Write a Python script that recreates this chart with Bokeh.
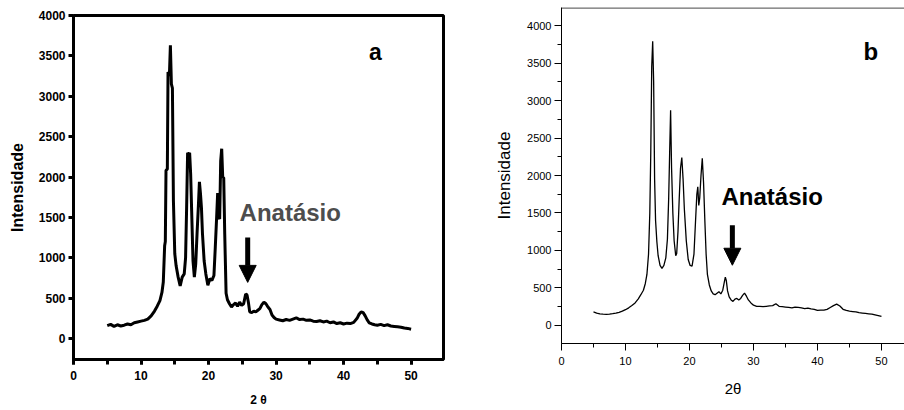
from bokeh.plotting import figure
from bokeh.models import Range1d, SingleIntervalTicker, Label, Arrow, NormalHead, Span
from bokeh.layouts import row
from bokeh.embed import file_html
from bokeh.resources import INLINE

FONT = "Liberation Sans"

# ---- data ----
two_theta_a = [5.0, 5.5, 6.0, 6.5, 7.0, 7.5, 8.0, 8.5, 9.0, 9.5,
               10.0, 10.5, 11.0, 11.5, 12.0, 12.4, 12.8, 13.1, 13.3, 13.5,
               13.6, 13.7, 13.9, 14.0, 14.2, 14.35, 14.5, 14.65, 14.8, 15.0,
               15.2, 15.5, 15.8, 16.1, 16.4, 16.6, 16.75, 16.9, 17.05, 17.2,
               17.35, 17.5, 17.7, 17.9, 18.1, 18.3, 18.5, 18.65, 18.8, 18.95,
               19.1, 19.35, 19.6, 19.9, 20.2, 20.5, 20.8, 21.0, 21.2, 21.35,
               21.5, 21.65, 21.8, 21.95, 22.1, 22.25, 22.4, 22.6, 22.8, 23.1,
               23.4, 23.7, 24.0, 24.3, 24.6, 24.9, 25.2, 25.5, 25.7, 25.9,
               26.1, 26.4, 26.7, 27.0, 27.3, 27.6, 27.9, 28.2, 28.5, 28.8,
               29.1, 29.4, 29.7, 30.0, 30.5, 31.0, 31.5, 32.0, 32.5, 33.0,
               33.5, 34.0, 34.5, 35.0, 35.5, 36.0, 36.5, 37.0, 37.5, 38.0,
               38.5, 39.0, 39.5, 40.0, 40.5, 41.0, 41.5, 42.0, 42.3, 42.6,
               42.9, 43.2, 43.5, 43.8, 44.2, 44.6, 45.0, 45.5, 46.0, 46.5,
               47.0, 47.5, 48.0, 48.5, 49.0, 49.5, 50.0]
intensity_a = [160, 175, 150, 170, 155, 165, 180, 170, 195, 205,
               215, 225, 240, 280, 340, 400, 470, 570, 700, 1150,
               1200, 2080, 2100, 3300, 3250, 3630, 3150, 3100, 1700, 1050,
               900, 760, 650, 760, 800, 1000, 1600, 2300, 2280, 2300,
               2040, 1580, 960, 760, 920, 1300, 1650, 1940, 1800, 1620,
               1300, 960, 800, 660, 740, 720, 780, 1130, 1500, 1800,
               1500, 1480, 2200, 2350, 2000, 1990, 1290, 560, 480, 430,
               390, 420, 440, 400, 450, 410, 430, 550, 540, 450,
               330, 320, 340, 330, 350, 370, 420, 450, 430, 390,
               360, 290, 260, 240, 230, 220, 235, 225, 240, 255,
               235, 240, 225, 230, 215, 210, 220, 205, 215, 195,
               205, 185, 195, 180, 190, 185, 200, 250, 300, 330,
               320, 280, 230, 195, 180, 170, 165, 175, 160, 170,
               155, 150, 145, 140, 130, 125, 115]

two_theta_b = [5.0, 5.5, 6.0, 6.5, 7.0, 7.5, 8.0, 8.5, 9.0, 9.5,
               10.0, 10.5, 11.0, 11.5, 12.0, 12.4, 12.8, 13.1, 13.35, 13.6,
               13.8, 13.95, 14.1, 14.25, 14.4, 14.55, 14.7, 14.9, 15.1, 15.4,
               15.7, 16.0, 16.3, 16.55, 16.75, 16.9, 17.05, 17.2, 17.4, 17.6,
               17.85, 18.0, 18.2, 18.4, 18.6, 18.8, 19.0, 19.2, 19.5, 19.8,
               20.1, 20.4, 20.7, 20.95, 21.15, 21.3, 21.45, 21.6, 21.8, 22.0,
               22.2, 22.4, 22.6, 22.8, 23.1, 23.4, 23.7, 24.0, 24.3, 24.6,
               24.9, 25.2, 25.45, 25.6, 25.75, 25.95, 26.2, 26.5, 26.8, 27.1,
               27.4, 27.7, 28.0, 28.3, 28.6, 28.9, 29.2, 29.6, 30.0, 30.5,
               31.0, 31.5, 32.0, 32.5, 33.0, 33.5, 34.0, 34.5, 35.0, 35.5,
               36.0, 36.5, 37.0, 37.5, 38.0, 38.5, 39.0, 39.5, 40.0, 40.5,
               41.0, 41.5, 42.0, 42.5, 43.0, 43.5, 44.0, 44.5, 45.0, 45.5,
               46.0, 46.5, 47.0, 47.5, 48.0, 48.5, 49.0, 49.5, 50.0]
intensity_b = [180, 165, 155, 150, 148, 152, 158, 165, 175, 190,
               210, 235, 265, 300, 355, 410, 470, 560, 680, 950,
               1500, 2300, 3450, 3790, 3250, 1950, 1400, 1120, 930, 800,
               760, 800, 900, 1150, 1700, 2300, 2870, 2100, 1500, 1130,
               930, 960, 1250, 1700, 2100, 2240, 1950, 1550, 1130, 880,
               800, 790, 950, 1400, 1750, 1850, 1600, 1700, 2000, 2230,
               1900, 1400, 950, 680, 540, 460, 420, 410, 430, 450,
               420, 470, 580, 645, 600, 460, 380, 340, 320, 350,
               360, 340, 360, 400, 430, 390, 340, 300, 270, 255,
               255, 250, 255, 260, 265, 290, 255, 250, 245, 240,
               235, 245, 240, 235, 225, 230, 220, 215, 200, 205,
               205, 215, 240, 265, 285, 260, 215, 200, 190, 185,
               180, 170, 165, 160, 155, 150, 140, 130, 120]

x_tick_step = 10
y_tick_step = 500


def style_axes(p, bold, lw, tick_font, label_font, tick_len, x_label, y_label,
               y_minor, xl_standoff, yl_standoff, xt_standoff, yt_standoff):
    style = "bold" if bold else "normal"
    p.xaxis.ticker = SingleIntervalTicker(interval=x_tick_step, num_minor_ticks=2)
    p.yaxis.ticker = SingleIntervalTicker(interval=y_tick_step, num_minor_ticks=y_minor)
    for ax in (p.xaxis, p.yaxis):
        ax.axis_line_width = lw
        ax.axis_line_color = "black"
        ax.major_tick_line_width = lw
        ax.minor_tick_line_width = lw
        ax.major_tick_line_color = "black"
        ax.minor_tick_line_color = "black"
        ax.major_tick_in = 0
        ax.minor_tick_in = 0
        ax.major_tick_out = tick_len
        ax.minor_tick_out = tick_len if bold else 4
        ax.major_label_text_font = FONT
        ax.major_label_text_font_style = style
        ax.major_label_text_font_size = tick_font
        ax.major_label_text_color = "black"
        ax.axis_label_text_font = FONT
        ax.axis_label_text_font_style = style
        ax.axis_label_text_font_size = label_font
        ax.axis_label_text_color = "black"
    p.xaxis.axis_label = x_label
    p.yaxis.axis_label = y_label
    p.xaxis.axis_label_standoff = xl_standoff
    p.yaxis.axis_label_standoff = yl_standoff
    p.xaxis.major_label_standoff = xt_standoff
    p.yaxis.major_label_standoff = yt_standoff
    p.grid.visible = False


# ---- panel a ----
pa = figure(width=450, height=410, x_range=Range1d(0, 54.8), y_range=Range1d(-260, 4000),
            output_backend="svg", toolbar_location=None,
            min_border_left=73, min_border_right=7, min_border_top=15, min_border_bottom=51)
pa.frame_align = False
pa.line(two_theta_a, intensity_a, line_width=3, color="black")
pa.outline_line_color = "black"
pa.outline_line_width = 3
pa.outline_line_alpha = 1
style_axes(pa, True, 3, "12px", "16px", 5, "2 θ", "Intensidade", 0, 10, 10, 6, 3)
pa.xaxis.axis_label_text_font_size = "12px"
pa.add_layout(Arrow(end=NormalHead(size=17, fill_color="black", line_color="black"),
                    x_start=25.8, y_start=1252, x_end=25.8, y_end=695,
                    line_width=5, line_color="black"))
pa.add_layout(Label(x=24.6, y=1562, text="Anatásio", text_font=FONT, text_font_style="bold",
                    text_font_size="24px", text_color="#4d4d4d", text_baseline="alphabetic"))
pa.add_layout(Label(x=44.7, y=3542, text="a", text_font=FONT, text_font_style="bold",
                    text_font_size="23px", text_color="black", text_align="center",
                    text_baseline="alphabetic"))

# ---- panel b ----
pb = figure(width=454, height=410, x_range=Range1d(0, 53.6), y_range=Range1d(-241, 4241),
            output_backend="svg", toolbar_location=None,
            min_border_left=111, min_border_right=0, min_border_top=7, min_border_bottom=67)
pb.frame_align = False
pb.line(two_theta_b, intensity_b, line_width=1.3, color="black")
pb.outline_line_color = None
pb.add_layout(Span(location=4235, dimension="width", line_color="black", line_width=1))
style_axes(pb, False, 1, "11px", "17px", 7, "2θ", "Intensidade", 2, 12, 10, 6, 3)
pb.xaxis.axis_label_text_font_size = "15px"
pb.add_layout(Arrow(end=NormalHead(size=17, fill_color="black", line_color="black"),
                    x_start=26.7, y_start=1338, x_end=26.7, y_end=803,
                    line_width=5, line_color="black"))
pb.add_layout(Label(x=25.0, y=1726, text="Anatásio", text_font=FONT, text_font_style="bold",
                    text_font_size="24px", text_color="black", text_baseline="alphabetic"))
pb.add_layout(Label(x=47.2, y=3652, text="b", text_font=FONT, text_font_style="bold",
                    text_font_size="24px", text_color="black", text_baseline="alphabetic"))

layout = row(pa, pb)
open("out.html", "w").write(file_html(layout, INLINE))
